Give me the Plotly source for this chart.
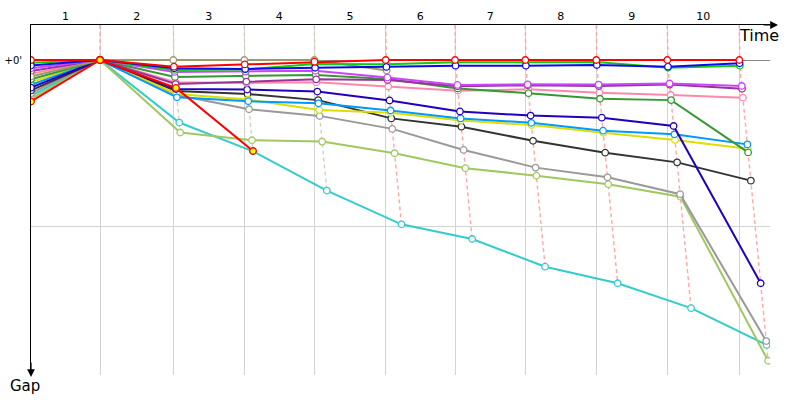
import numpy as np
import plotly.graph_objects as go

# ---------------- data ----------------
lap_labels = ["1", "2", "3", "4", "5", "6", "7", "8", "9", "10"]
# leader lap times (s)
leader_lap_times = [260.4, 276.6, 267.9, 264.2, 269.4, 261.5, 265.3, 267.9, 267.9, 271.7]
gap_ticks = [0, 60]
gap_tick_text = ["+0'", ""]

# gap to leader (s) at lap 0 (grid) .. lap 10
gap_red = [0, 0, 2.4, 1.6, 0.6, 0, 0, 0, 0, 0, 0]
gap_green = [1.0, 0, 3.6, 3.4, 1.45, 1.55, 0.85, 0.85, 0.75, 2.8, 2.05]
gap_blue = [2.0, 0, 3.0, 3.25, 2.8, 2.5, 2.05, 2.05, 1.8, 2.4, 1.2]
gap_violet = [3.0, 0, 4.3, 4.2, 3.9, 6.3, 9.0, 8.8, 8.9, 8.5, 9.4]
gap_purple = [4.0, 0, 8.7, 7.8, 7.0, 7.2, 9.5, 9.1, 9.4, 8.9, 10.4]
gap_pink = [5.0, 0, 8.0, 8.3, 8.0, 9.6, 11.1, 10.6, 11.8, 12.65, 13.6]
gap_olive = [6.0, 0, 0, 0, 0, 3.8]
gap_darkgreen = [7.0, 0, 6.1, 5.8, 5.4, 6.9, 10.3, 12.0, 14.0, 14.5, 33.4]
gap_yellow = [8.0, 0, 12.3, 14.3, 18.1, 19.05, 21.9, 23.5, 26.3, 28.9, 32.1]
gap_lightblue = [9.0, 0, 13.5, 14.9, 15.65, 18.25, 21.1, 22.7, 25.55, 26.85, 30.5]
gap_navy = [10.0, 0, 10.5, 10.7, 11.4, 14.6, 18.6, 20.1, 20.85, 23.85, 80.7]
gap_black = [11.0, 0, 11.2, 12.3, 14.5, 21.1, 24.1, 29.2, 33.5, 37.0, 43.6]
gap_gray = [12.0, 0, 12.65, 17.8, 20.2, 24.9, 32.5, 38.9, 42.4, 48.5, 101.6]
gap_cyan = [13.0, 0, 22.6, 33.0, 47.2, 59.4, 64.7, 74.7, 80.7, 89.7, 103.0]
gap_olivegreen = [14.0, 0, 26.2, 29.0, 29.5, 33.7, 39.1, 41.8, 44.9, 49.4, 108.7]
gap_red2 = [15.0, 0, 10.1, 32.9]

# ---------------- styles ----------------
# (gaps, line colour, marker fill) -- listed in grid order (for leader ties)
series = [
    (gap_red, "#ff0000", "white"),
    (gap_green, "#11cc11", "white"),
    (gap_blue, "#0a0aee", "white"),
    (gap_violet, "#cc44ff", "white"),
    (gap_purple, "#993399", "white"),
    (gap_pink, "#ff88aa", "white"),
    (gap_olive, "#9c9a6a", "white"),
    (gap_darkgreen, "#339933", "white"),
    (gap_yellow, "#dddd00", "white"),
    (gap_lightblue, "#0099ff", "white"),
    (gap_navy, "#2200bb", "white"),
    (gap_black, "#333333", "white"),
    (gap_gray, "#999999", "white"),
    (gap_cyan, "#33cccc", "white"),
    (gap_olivegreen, "#a0c860", "white"),
    (gap_red2, "#ff0000", "#ffff00"),
]
draw_order = [13, 14, 12, 11, 8, 9, 10, 5, 7, 4, 3, 6, 1, 2, 0, 15]

X_PER_S = 0.265          # px per second on time axis
PLOT_W, PLOT_H = 739, 350
Y_PER_S = 166 / 60.0     # px per second on gap axis
x_range = [0, PLOT_W / X_PER_S]
y_top = -35 / Y_PER_S
y_bottom = (PLOT_H - 35) / Y_PER_S

leader_t = np.concatenate([[0.0], np.cumsum(leader_lap_times)])


def xy(gaps):
    xs, ys = [], []
    for k, g in enumerate(gaps):
        xs.append(leader_t[k] + (g if k > 0 else 0.0))
        ys.append(g)
    return xs, ys


fig = go.Figure()

# dashed lap connectors
for k in range(1, len(leader_t)):
    pts = []
    for idx, (gaps, col, fill) in enumerate(series):
        if k < len(gaps) and gaps[k] is not None:
            pts.append((gaps[k], idx))
    pts.sort(key=lambda p: (p[0], p[1]))
    leader_idx = pts[0][1]
    dcol = "#d2d2bc" if series[leader_idx][1] == "#9c9a6a" else "#ffa8a8"
    xs = [leader_t[k]] + [leader_t[k] + g for g, _ in pts]
    ys = [y_top] + [g for g, _ in pts]
    fig.add_trace(go.Scatter(x=xs, y=ys, mode="lines",
                             line=dict(color=dcol, width=1.4, dash="4px,3px"),
                             hoverinfo="skip", showlegend=False))

for i in draw_order:
    gaps, col, fill = series[i]
    xs, ys = xy(gaps)
    fig.add_trace(go.Scatter(
        x=xs, y=ys, mode="lines+markers",
        line=dict(color=col, width=2),
        marker=dict(symbol="circle", size=6.5, color=fill,
                    line=dict(color=col, width=1.3)),
        showlegend=False))

mids = [(leader_t[k - 1] + leader_t[k]) / 2 for k in range(1, len(leader_t))]

font_family = "Tahoma, DejaVu Sans, sans-serif"

fig.update_layout(
    width=800, height=400,
    margin=dict(l=31, r=30, t=25, b=25),
    paper_bgcolor="white", plot_bgcolor="white",
    font=dict(family=font_family, color="black"),
    xaxis=dict(
        range=x_range, side="top", automargin=False,
        tickmode="array", tickvals=mids, ticktext=lap_labels,
        ticks="", showgrid=False, zeroline=False,
        tickfont=dict(size=11, color="black"),
        showline=True, linecolor="black", linewidth=1,
        minor=dict(tickmode="array", tickvals=list(leader_t[1:]),
                   showgrid=True, gridcolor="#d3d3d3", gridwidth=1, ticks=""),
    ),
    yaxis=dict(
        range=[y_bottom, y_top], automargin=False,
        tickmode="array", tickvals=gap_ticks, ticktext=gap_tick_text,
        ticks="", showgrid=True, gridcolor="#d3d3d3", gridwidth=1,
        zeroline=True, zerolinecolor="#888888", zerolinewidth=1,
        tickfont=dict(size=10, color="black"),
        showline=True, linecolor="black", linewidth=1,
        ticklabelstandoff=6,
    ),
    annotations=[
        dict(xref="paper", yref="paper", x=(778 - 31) / PLOT_W, y=1,
             ax=-16, ay=0, showarrow=True, arrowhead=2, arrowsize=1.3,
             arrowwidth=1.2, arrowcolor="black", text=""),
        dict(xref="paper", yref="paper", x=0, y=-2 / PLOT_H,
             ax=0, ay=-16, showarrow=True, arrowhead=2, arrowsize=1.3,
             arrowwidth=1.2, arrowcolor="black", text=""),
        dict(xref="paper", yref="paper", x=(759 - 31) / PLOT_W,
             y=(375 - 35) / PLOT_H, text="Time", showarrow=False,
             font=dict(size=16, color="black"), xanchor="center", yanchor="middle"),
        dict(xref="paper", yref="paper", x=(25 - 31) / PLOT_W,
             y=(375 - 385.5) / PLOT_H, text="Gap", showarrow=False,
             font=dict(size=15, color="black"), xanchor="center", yanchor="middle"),
    ],
)

fig.write_html("out.html")
